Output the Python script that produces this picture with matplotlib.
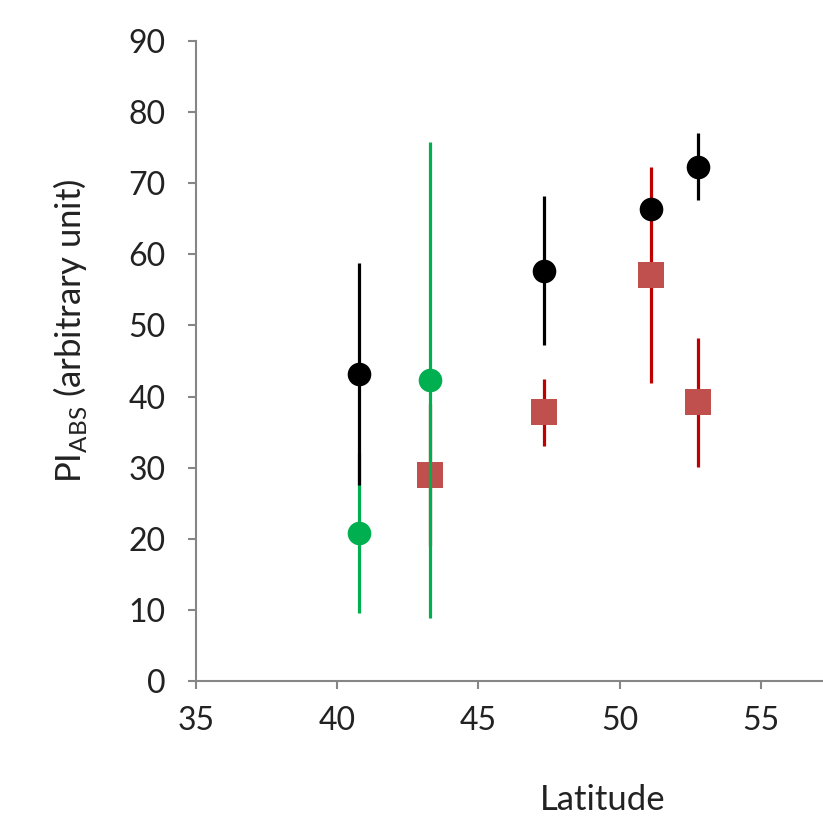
import matplotlib.pyplot as plt

plt.rcParams['font.family'] = ['Lato', 'DejaVu Sans']
plt.rcParams['mathtext.fontset'] = 'custom'
plt.rcParams['mathtext.rm'] = 'Lato'

# Daten (Breitengrad, PI_ABS, Fehler)
black_lat = [40.77, 47.32, 51.1, 52.77]
black_pi = [43.2, 57.7, 66.4, 72.3]
black_err = [15.6, 10.5, 1.0, 4.7]

green_lat = [40.77, 43.28]
green_pi = [20.8, 42.3]
green_err = [11.3, 33.5]

red_lat = [43.28, 47.32, 51.1, 52.77]
red_pi = [29.0, 37.8, 57.1, 39.2]
red_err = [10.0, 4.7, 15.2, 9.1]

GRAY = '#868686'


def draw(ax, lat, pi, err, marker, mcolor, ecolor, ms, z):
    lo = [p - e for p, e in zip(pi, err)]
    hi = [p + e for p, e in zip(pi, err)]
    ax.vlines(lat, lo, hi, colors=ecolor, linewidth=2.3, zorder=z)
    ax.plot(lat, pi, linestyle='none', marker=marker, ms=ms, color=mcolor,
            markeredgewidth=0, zorder=z + 0.5)


fig = plt.figure(figsize=(8.23, 8.16), dpi=100)
ax = fig.add_axes([0.238, 0.1654, 0.762, 0.7843])

draw(ax, red_lat, red_pi, red_err, 's', '#c0504d', '#c00000', 19, 2)
draw(ax, green_lat, green_pi, green_err, 'o', '#00b050', '#00b050', 17, 3)
draw(ax, black_lat, black_pi, black_err, 'o', 'black', 'black', 17, 4)

ax.set_xlim(35, 57.19)
ax.set_ylim(0, 90)
ax.set_xticks([35, 40, 45, 50, 55])
ax.set_yticks(range(0, 91, 10))

for s in ['top', 'right']:
    ax.spines[s].set_visible(False)
for s in ['left', 'bottom']:
    ax.spines[s].set_color(GRAY)
    ax.spines[s].set_linewidth(1.5)

ax.tick_params(axis='both', direction='out', length=6, width=1.5, color=GRAY,
               labelsize=23, labelcolor='#222222')
ax.tick_params(axis='y', pad=16)
ax.tick_params(axis='x', pad=12)

ax.set_xlabel('Latitude', fontsize=25, color='#222222', va='center')
ax.xaxis.set_label_coords(0.648, -0.186)
ax.set_ylabel(r'PI$_{\mathregular{ABS}}$ (arbitrary unit)', fontsize=25,
              color='#222222', va='center')
ax.yaxis.set_label_coords(-0.201, 0.547)

fig.savefig('out.png', dpi=100)
